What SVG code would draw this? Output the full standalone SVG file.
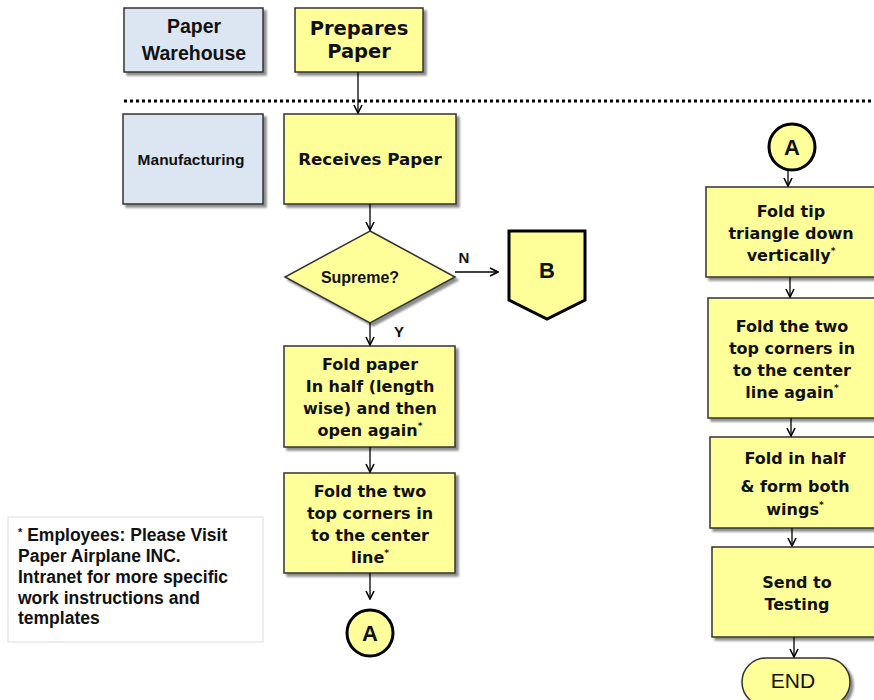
<svg xmlns="http://www.w3.org/2000/svg" width="874" height="700" viewBox="0 0 874 700">
<defs>
<marker id="ah" markerWidth="10" markerHeight="10" refX="9" refY="5" orient="auto" markerUnits="userSpaceOnUse">
<path d="M1,1 L9,5 L1,9" fill="none" stroke="#000" stroke-width="1.6"/>
</marker>
<filter id="sh" x="-10%" y="-10%" width="130%" height="130%">
<feOffset dx="3" dy="3" in="SourceAlpha" result="o"/>
<feGaussianBlur in="o" stdDeviation="1.2" result="b"/>
<feComponentTransfer in="b" result="c"><feFuncA type="linear" slope="0.45"/></feComponentTransfer>
<feMerge><feMergeNode in="c"/><feMergeNode in="SourceGraphic"/></feMerge>
</filter>
</defs>
<style>
.lane{fill:#DCE6F2;stroke:#333;stroke-width:1.5;filter:url(#sh)}
.box{fill:#FFFF99;stroke:#333;stroke-width:1.5;filter:url(#sh)}
.con{fill:#FFFF99;stroke:#000;stroke-width:3}
.t{font-family:"DejaVu Sans",Verdana,sans-serif;font-weight:bold;font-size:16px;fill:#111;text-anchor:middle}
.a{font-family:"Liberation Sans",Arial,sans-serif;font-weight:bold;fill:#111;text-anchor:middle}
.sup{font-size:9px}
.ln{stroke:#000;stroke-width:1.3;fill:none}
</style>
<rect width="874" height="700" fill="#fff"/>

<g id="lane-warehouse">
<rect class="lane" x="124" y="8" width="139" height="64"/>
<text class="a" x="194" y="33" font-size="19.5">Paper</text>
<text class="a" x="194" y="60" font-size="19.5">Warehouse</text>
</g>
<g id="lane-manufacturing">
<rect class="lane" x="123" y="114" width="140" height="90"/>
<text class="a" x="191" y="165" font-size="15.5">Manufacturing</text>
</g>
<line x1="124" y1="101" x2="874" y2="101" stroke="#000" stroke-width="3" stroke-dasharray="3 3"/>

<g id="prepares">
<rect class="box" x="295" y="8" width="128" height="64"/>
<text class="t" x="359" y="35" style="font-size:19.5px">Prepares</text>
<text class="t" x="359" y="58" style="font-size:19.5px">Paper</text>
</g>
<g id="receives">
<rect class="box" x="284" y="114" width="172" height="90"/>
<text class="t" x="370" y="165" style="font-size:16.7px">Receives Paper</text>
</g>
<g id="supreme">
<polygon class="box" points="370,231 455,277 370,323 285,277"/>
<text class="a" x="360" y="283" font-size="16">Supreme?</text>
</g>
<g id="offpage-b">
<polygon class="con" points="509,231 585,231 585,300 547,319 509,300"/>
<text class="a" x="547" y="278" font-size="22">B</text>
</g>
<g id="fold-half">
<rect class="box" x="284" y="346" width="171" height="101"/>
<text class="t" x="370" y="370">Fold paper</text>
<text class="t" x="370" y="392">In half (length</text>
<text class="t" x="370" y="414">wise) and then</text>
<text class="t" x="370" y="436">open again<tspan class="sup" dy="-7">*</tspan></text>
</g>
<g id="fold-corners">
<rect class="box" x="284" y="473" width="171" height="100"/>
<text class="t" x="370" y="497">Fold the two</text>
<text class="t" x="370" y="519">top corners in</text>
<text class="t" x="370" y="541">to the center</text>
<text class="t" x="370" y="563">line<tspan class="sup" dy="-7">*</tspan></text>
</g>
<g id="connector-a1">
<circle class="con" cx="370" cy="633" r="23"/>
<text class="a" x="370" y="641" font-size="22">A</text>
</g>
<g id="footnote">
<rect x="8" y="517" width="255" height="125" fill="#fff" stroke="#ddd" stroke-width="1"/>
<text font-family="Liberation Sans,Arial,sans-serif" font-weight="bold" font-size="17.5" fill="#111">
<tspan x="18" y="541"><tspan font-size="11" dy="-5">*</tspan><tspan dy="5"> Employees: Please Visit</tspan></tspan>
<tspan x="18" y="562">Paper Airplane INC.</tspan>
<tspan x="18" y="583">Intranet for more specific</tspan>
<tspan x="18" y="604">work instructions  and</tspan>
<tspan x="18" y="624">templates</tspan>
</text>
</g>

<g id="connector-a2">
<circle class="con" cx="792" cy="147" r="23"/>
<text class="a" x="792" y="155" font-size="22">A</text>
</g>
<g id="fold-tip">
<rect class="box" x="706" y="187" width="172" height="90"/>
<text class="t" x="791" y="217">Fold tip</text>
<text class="t" x="791" y="239">triangle down</text>
<text class="t" x="791" y="261">vertically<tspan class="sup" dy="-7">*</tspan></text>
</g>
<g id="fold-corners-again">
<rect class="box" x="708" y="298" width="172" height="120"/>
<text class="t" x="792" y="332">Fold the two</text>
<text class="t" x="792" y="354">top corners in</text>
<text class="t" x="792" y="376">to the center</text>
<text class="t" x="792" y="398">line again<tspan class="sup" dy="-7">*</tspan></text>
</g>
<g id="fold-wings">
<rect class="box" x="710" y="437" width="172" height="91"/>
<text class="t" x="795" y="464">Fold in half</text>
<text class="t" x="795" y="492">&amp; form both</text>
<text class="t" x="795" y="515">wings<tspan class="sup" dy="-7">*</tspan></text>
</g>
<g id="send-testing">
<rect class="box" x="712" y="547" width="172" height="90"/>
<text class="t" x="797" y="588">Send to</text>
<text class="t" x="797" y="610">Testing</text>
</g>
<g id="end">
<rect class="box" x="742" y="658" width="108" height="48" rx="24"/>
<text font-family="Liberation Sans,Arial,sans-serif" font-size="21" fill="#111" text-anchor="middle" x="793" y="688">END</text>
</g>

<g id="connectors">
<line class="ln" x1="358" y1="72" x2="358" y2="113" marker-end="url(#ah)"/>
<line class="ln" x1="370" y1="204" x2="370" y2="230" marker-end="url(#ah)"/>
<line class="ln" x1="455" y1="272" x2="498" y2="272" marker-end="url(#ah)"/>
<line class="ln" x1="370" y1="323" x2="370" y2="345" marker-end="url(#ah)"/>
<line class="ln" x1="370" y1="447" x2="370" y2="472" marker-end="url(#ah)"/>
<line class="ln" x1="370" y1="573" x2="370" y2="599" marker-end="url(#ah)"/>
<line class="ln" x1="788" y1="170" x2="788" y2="186" marker-end="url(#ah)"/>
<line class="ln" x1="790" y1="277" x2="790" y2="297" marker-end="url(#ah)"/>
<line class="ln" x1="791" y1="418" x2="791" y2="436" marker-end="url(#ah)"/>
<line class="ln" x1="792" y1="528" x2="792" y2="546" marker-end="url(#ah)"/>
<line class="ln" x1="794" y1="637" x2="794" y2="657" marker-end="url(#ah)"/>
<text class="a" x="464" y="263" font-size="15">N</text>
<text class="a" x="399" y="337" font-size="15">Y</text>
</g>
</svg>
